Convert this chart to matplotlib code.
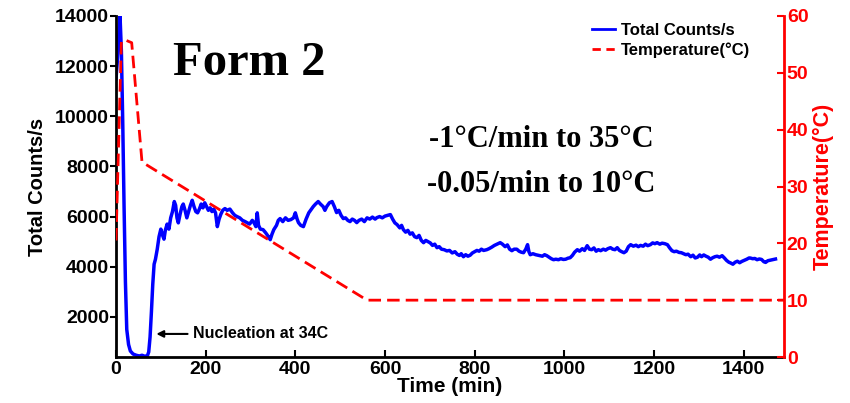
import matplotlib
matplotlib.use("Agg")
import matplotlib.pyplot as plt
from matplotlib.lines import Line2D

plt.rcParams['font.family'] = ['Liberation Sans', 'DejaVu Sans']
plt.rcParams['font.weight'] = 'bold'

# Crystallisation run, Form 2: total counts and jacket temperature
time_min = [0, 3, 6, 9, 12, 15, 18, 21, 24, 28, 32, 38, 45, 52, 58, 64, 70, 73, 76, 79,
            82, 85, 88, 92, 96, 100, 104, 107, 110, 114, 118, 122, 126, 130, 133, 136, 139,
            143, 147, 150, 154, 158, 162, 166, 170, 174, 178, 182, 186, 190, 194, 198, 202,
            206, 210, 214, 218, 222, 226, 230, 234, 238, 243, 248, 254, 260, 265, 270, 276,
            282, 288, 292, 298, 304, 308, 312, 315, 318, 322, 328, 334, 340, 344, 348, 352,
            358, 362, 366, 372, 378, 384, 390, 396, 400, 404, 407, 412, 418, 424, 430, 436,
            440, 445, 451, 456, 462, 466, 470, 476, 482, 487, 492, 497, 502, 507, 512, 517,
            522, 527, 532, 537, 542, 548, 554, 560, 566, 572, 578, 582, 588, 594, 600, 606,
            612, 617, 622, 627, 633, 637, 641, 646, 651, 656, 661, 666, 671, 676, 681, 686,
            691, 696, 701, 706, 711, 716, 721, 726, 732, 738, 744, 750, 756, 761, 766, 770,
            775, 780, 785, 790, 795, 800, 805, 810, 815, 820, 827, 832, 838, 844, 850, 857,
            862, 868, 873, 878, 883, 888, 894, 899, 904, 909, 914, 918, 921, 924, 930, 936,
            941, 946, 951, 956, 961, 966, 971, 976, 981, 987, 992, 998, 1003, 1008, 1013,
            1018, 1023, 1029, 1034, 1040, 1045, 1051, 1056, 1061, 1066, 1071, 1076, 1081,
            1087, 1092, 1097, 1103, 1108, 1113, 1118, 1123, 1128, 1133, 1138, 1143, 1148,
            1154, 1160, 1165, 1170, 1176, 1181, 1186, 1192, 1197, 1202, 1207, 1213, 1218,
            1224, 1230, 1235, 1240, 1245, 1250, 1256, 1261, 1266, 1271, 1276, 1282, 1287,
            1292, 1297, 1302, 1306, 1311, 1316, 1321, 1326, 1331, 1336, 1341, 1346, 1352,
            1357, 1362, 1367, 1371, 1376, 1381, 1386, 1391, 1396, 1402, 1407, 1412, 1415,
            1420, 1425, 1430, 1435, 1440, 1445, 1449, 1454, 1459, 1464, 1468, 1471]

counts = [11500, 12200, 13200, 14000, 12600, 9800, 6400, 3400, 1500, 900, 640, 520, 470, 440,
          470, 430, 450, 600, 1200, 2200, 3300, 4100, 4300, 4700, 5200, 5500, 5250, 5100,
          5450, 5700, 5500, 5950, 6200, 6600, 6450, 5950, 5750, 6100, 6400, 6500, 6250, 5950,
          6200, 6450, 6650, 6400, 6200, 6150, 6300, 6500, 6350, 6550, 6400, 6250, 6350, 6200,
          6300, 6150, 5600, 5900, 6100, 6250, 6320, 6250, 6300, 6150, 6050, 6000, 5950, 5850,
          5800, 5760, 5700, 5850, 5750, 5600, 6150, 5650, 5500, 5480, 5350, 5200, 5080, 5300,
          5480, 5650, 5850, 5920, 5800, 5950, 5850, 5880, 5950, 6150, 5900, 5760, 5650, 5600,
          5900, 6150, 6300, 6400, 6500, 6600, 6500, 6400, 6250, 6400, 6550, 6600, 6400, 6160,
          6250, 6050, 5920, 5950, 5850, 5800, 5900, 5850, 5760, 5850, 5900, 5800, 5950, 5900,
          5980, 5900, 5960, 6000, 5950, 6020, 6050, 6080, 5900, 5750, 5680, 5550, 5650, 5480,
          5380, 5450, 5300, 5350, 5200, 5160, 5250, 5050, 4960, 5050, 5000, 4950, 4850, 4900,
          4760, 4800, 4700, 4680, 4630, 4650, 4550, 4600, 4500, 4450, 4520, 4400, 4480, 4420,
          4460, 4550, 4600, 4650, 4620, 4700, 4650, 4680, 4720, 4780, 4850, 4900, 4960, 4900,
          4800, 4870, 4700, 4640, 4700, 4700, 4620, 4580, 4560, 4700, 4880, 4600, 4480, 4520,
          4480, 4460, 4440, 4420, 4480, 4440, 4380, 4320, 4280, 4300, 4280, 4320, 4290, 4300,
          4340, 4360, 4450, 4580, 4680, 4620, 4720, 4650, 4840, 4700, 4680, 4750, 4620, 4680,
          4640, 4700, 4660, 4720, 4760, 4700, 4680, 4760, 4650, 4600, 4560, 4620, 4800, 4880,
          4820, 4860, 4800, 4850, 4820, 4900, 4840, 4880, 4950, 4920, 4960, 4900, 4940, 4920,
          4880, 4750, 4640, 4600, 4620, 4570, 4560, 4520, 4480, 4500, 4400, 4460, 4350, 4380,
          4470, 4400, 4470, 4420, 4380, 4300, 4360, 4400, 4420, 4380, 4440, 4350, 4250, 4180,
          4150, 4100, 4180, 4220, 4160, 4213, 4260, 4300, 4350, 4347, 4320, 4330, 4280, 4310,
          4290, 4200, 4173, 4240, 4260, 4280, 4300, 4307]

temp_time = [0, 12, 20, 35, 58, 560, 1490]
temp_c = [20.5, 55.5, 55.8, 55.3, 34.3, 10.0, 10.0]

count_ticks = [2000, 4000, 6000, 8000, 10000, 12000, 14000]
temp_ticks = [0, 10, 20, 30, 40, 50, 60]
time_ticks = [0, 200, 400, 600, 800, 1000, 1200, 1400]

fig = plt.figure(figsize=(8.5, 4.03), dpi=100)
ax = fig.add_axes([116 / 850, 46 / 403, (784 - 116) / 850, (357 - 16) / 403])
ax2 = ax.twinx()

ax.plot(time_min, counts, color='#0000ff', lw=2.5, solid_joinstyle='round')
ax2.plot(temp_time, temp_c, color='#ff0000', lw=2.0, ls=(0, (4.5, 2.2)))

ax.set_xlim(0, 1490)
ax.set_ylim(400, 14000)
ax2.set_ylim(0, 60)

ax.set_xticks(time_ticks)
ax.set_yticks(count_ticks)
ax2.set_yticks(temp_ticks)

tick_font = 14
for lab in ax.get_xticklabels() + ax.get_yticklabels():
    lab.set_fontsize(tick_font)
    lab.set_fontweight('bold')
for lab in ax2.get_yticklabels():
    lab.set_fontsize(tick_font)
    lab.set_fontweight('bold')
    lab.set_color('#ff0000')

for a in (ax, ax2):
    a.spines['top'].set_visible(False)
ax.spines['right'].set_visible(False)
ax2.spines['left'].set_visible(False)
ax2.spines['bottom'].set_visible(False)
ax.spines['left'].set_linewidth(2)
ax.spines['bottom'].set_linewidth(2)
ax2.spines['right'].set_linewidth(2)
ax2.spines['right'].set_color('#ff0000')

ax.tick_params(axis='x', direction='in', length=5, width=1.5, pad=3)
ax.tick_params(axis='y', direction='out', length=4, width=1.5, pad=1)
ax2.tick_params(axis='y', direction='in', length=5, width=1.5, colors='#ff0000', pad=2)

ax.set_xlabel('Time (min)', fontsize=15, fontweight='bold', labelpad=-1)
ax.set_ylabel('Total Counts/s', fontsize=14.5, fontweight='bold', labelpad=6)
ax2.set_ylabel('Temperature(°C)', fontsize=15.5, fontweight='bold', color='#ff0000', labelpad=3)

ax.text(173 / 850, 1 - 75 / 403, 'Form 2', transform=fig.transFigure,
        family='Liberation Serif', fontsize=35, fontweight='bold', ha='left', va='baseline')
ax.text(541 / 850, 1 - 147 / 403, '-1°C/min to 35°C', transform=fig.transFigure,
        family='Liberation Serif', fontsize=22, fontweight='bold', ha='center', va='baseline')
ax.text(541 / 850, 1 - 192 / 403, '-0.05/min to 10°C', transform=fig.transFigure,
        family='Liberation Serif', fontsize=22, fontweight='bold', ha='center', va='baseline')

ax.annotate('Nucleation at 34C', xy=(90, 1320), xytext=(172, 1320),
            fontsize=11.5, fontweight='bold', va='center', ha='left',
            arrowprops=dict(arrowstyle='-|>', color='black', lw=1.5,
                            mutation_scale=10, shrinkA=2, shrinkB=0))

handles = [Line2D([], [], color='#0000ff', lw=2),
           Line2D([], [], color='#ff0000', lw=2, ls=(0, (3, 2)))]
fig.legend(handles, ['Total Counts/s', 'Temperature(°C)'], loc='upper left',
           bbox_to_anchor=(592 / 850, 1 - 23 / 403), frameon=False,
           prop={'weight': 'bold', 'size': 12}, handlelength=1.4, handletextpad=0.35,
           borderpad=0, borderaxespad=0, labelspacing=0.25)

fig.savefig('out.png', dpi=100)
